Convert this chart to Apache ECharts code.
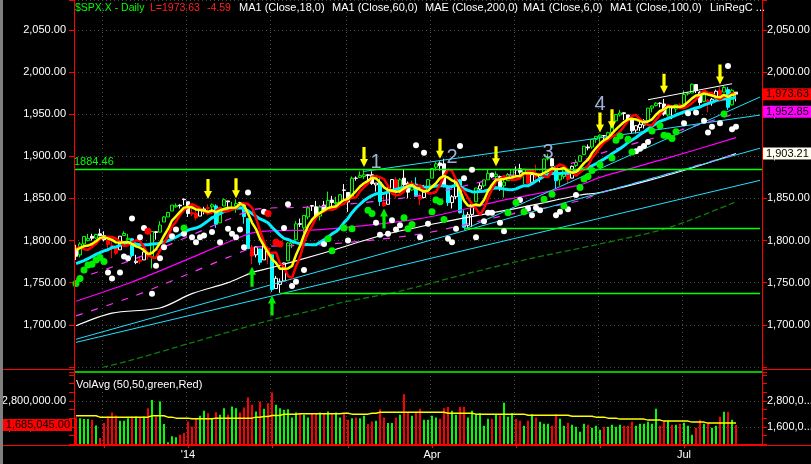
<!DOCTYPE html>
<html><head><meta charset="utf-8">
<script src="https://cdn.jsdelivr.net/npm/echarts/dist/echarts.min.js"></script>
<style>html,body{margin:0;padding:0;background:#000;overflow:hidden}#c{width:811px;height:464px;}</style>
</head><body><div id="c"></div>
<script>
// ---------- DATA ----------
const monthDays = [
 ['2013-11',[20,21,22,25,26,27,29]],
 ['2013-12',[2,3,4,5,6,9,10,11,12,13,16,17,18,19,20,23,24,26,27,30,31]],
 ['2014-01',[2,3,6,7,8,9,10,13,14,15,16,17,21,22,23,24,27,28,29,30,31]],
 ['2014-02',[3,4,5,6,7,10,11,12,13,14,18,19,20,21,24,25,26,27,28]],
 ['2014-03',[3,4,5,6,7,10,11,12,13,14,17,18,19,20,21,24,25,26,27,28,31]],
 ['2014-04',[1,2,3,4,7,8,9,10,11,14,15,16,17,21,22,23,24,25,28,29,30]],
 ['2014-05',[1,2,5,6,7,8,9,12,13,14,15,16,19,20,21,22,23,27,28,29,30]],
 ['2014-06',[2,3,4,5,6,9,10,11,12,13,16,17,18,19,20,23,24,25,26,27,30]],
 ['2014-07',[1,2,3,7,8,9,10,11,14,15,16,17,18,21]]
];
const monthNames = ['Jan','Feb','Mar','Apr','May','Jun','Jul','Aug','Sep','Oct','Nov','Dec'];
const xLabelMonths = ['2014-01','2014-04','2014-07'];
const priorCloses = [1759.8,1762.1,1772.0,1763.3,1756.5,1761.6,1767.9,1763.0,1770.5,1747.2,1770.6,1771.9,1767.7,1782.0,1790.6,1798.2,1791.5,1787.9];
// [open, high, low, close]
const ohlc = [
[1789,1795,1777,1781.4],[1783,1798,1780,1795.9],[1796,1805,1794,1804.8],[1800,1808,1799,1802.5],[1805,1808,1800,1802.8],
[1803,1808,1802,1807.2],[1808,1814,1805,1805.8],[1806,1811,1799,1800.9],[1800,1800,1788,1795.2],[1794,1799,1779,1792.8],
[1792,1793,1783,1785.0],[1789,1805,1789,1805.1],[1806,1811,1806,1808.4],[1801,1808,1800,1802.6],[1802,1803,1780,1782.2],
[1774,1783,1772,1775.5],[1777,1780,1772,1775.3],[1777,1792,1777,1786.5],[1786,1787,1777,1781.0],[1781,1811,1767,1810.7],
[1810.5,1811,1801,1809.6],[1810,1823,1810,1818.3],[1822,1829,1822,1828.0],[1828,1834,1828,1833.3],[1835,1842,1835,1842.0],
[1840,1844,1839,1841.4],[1842,1843,1838,1841.1],[1849,1850,1842,1848.4],[1846,1846,1828,1832.0],[1833,1838,1829,1831.4],
[1832,1837,1824,1826.8],[1829,1840,1829,1837.9],[1836,1840,1831,1837.5],[1839,1843,1830,1838.1],[1840,1844,1832,1842.4],
[1841,1843,1815,1819.2],[1821,1839,1821,1838.9],[1841,1850,1841,1848.4],[1847,1847,1840,1845.9],[1837,1846,1835,1838.7],
[1841,1849,1833,1843.8],[1845,1846,1840,1844.9],[1842,1842,1820,1828.5],[1826,1826,1790,1790.3],[1792,1795,1772,1781.6],
[1783,1793,1780,1792.5],[1790,1790,1771,1774.2],[1777,1798,1777,1794.2],[1791,1793,1772,1782.6],[1783,1785,1739,1741.9],
[1743,1758,1743,1755.2],[1748,1755,1738,1751.6],[1752,1774,1752,1773.4],[1776,1798,1776,1797.0],[1796,1800,1791,1799.8],
[1801,1823,1800,1819.8],[1820,1826,1816,1819.3],[1815,1830,1809,1829.8],[1828,1841,1825,1838.6],[1841.5,1842,1835,1840.8],
[1840,1847,1828,1828.8],[1829,1842,1824,1839.8],[1842,1847,1836,1836.3],[1837,1858,1837,1847.6],[1848,1853,1841,1845.1],
[1844,1852,1840,1845.2],[1844,1855,1842,1854.3],[1860,1867,1847,1859.5],[1857,1857,1834,1845.7],[1850,1876,1850,1873.9],
[1874,1876,1871,1873.8],[1875,1882,1874,1877.0],[1876,1884,1873,1878.0],[1878,1878.5,1869,1877.2],[1878,1882,1866,1867.6],
[1866,1868,1858,1868.2],[1869,1874,1841,1846.3],[1845,1853,1840,1841.1],[1843,1863,1843,1858.8],[1858,1873,1858,1872.3],
[1872,1875,1850,1860.8],[1860,1874,1856,1872.0],[1874,1884,1864,1866.5],[1868,1870,1850,1857.4],[1860,1871,1859,1865.6],
[1867,1875,1852,1852.6],[1852,1856,1842,1849.0],[1851,1866,1850,1857.6],[1859,1873,1859,1872.3],[1874,1886,1874,1885.5],
[1887,1893,1883,1890.9],[1892,1894,1883,1888.8],[1891,1897,1863,1865.1],[1864,1865,1841,1845.0],[1845,1854,1838,1852.0],
[1852,1872,1849,1872.2],[1872,1873,1832,1833.1],[1830,1836,1815,1815.7],[1818,1834,1815,1830.6],[1831,1844,1816,1843.0],
[1846,1862,1846,1862.3],[1861,1869,1857,1864.9],[1865,1872,1863,1871.9],[1872,1884,1872,1879.6],[1880,1880,1874,1875.4],
[1876,1882,1870,1878.6],[1876,1877,1859,1863.4],[1865,1877,1851,1869.4],[1871,1880,1871,1878.3],[1877,1884,1873,1884.0],
[1884,1888,1878,1883.7],[1885,1891,1878,1881.1],[1880,1885,1867,1884.7],[1883,1884,1867,1867.7],[1869,1881,1866,1878.2],
[1877,1890,1872,1875.6],[1875,1879,1869,1878.5],[1880,1897,1880,1896.7],[1897,1903,1895,1897.5],[1897,1898,1888,1888.5],
[1888,1888,1862,1870.9],[1872,1878,1865,1877.9],[1876,1887,1873,1885.1],[1884,1885,1868,1872.8],[1874,1889,1874,1888.0],
[1889,1896,1887,1892.5],[1894,1901,1893,1900.5],[1902,1912,1902,1911.9],[1911,1914,1907,1909.8],[1911,1920,1909,1920.0],
[1920,1924,1916,1923.6],[1923,1926,1916,1925.0],[1924.5,1925,1918,1924.2],[1923,1929,1919,1927.9],[1928,1942,1922,1940.5],
[1942,1950,1942,1949.4],[1949,1955,1947,1951.3],[1951.5,1952,1943,1950.8],[1949,1949,1940,1943.9],[1943,1944,1927,1930.1],
[1931,1937,1927,1936.2],[1934,1941,1930,1937.8],[1937,1944,1933,1942.0],[1942,1957,1939,1957.0],[1957,1960,1952,1959.5],
[1960,1964,1959,1962.9],[1963,1964,1958,1962.6],[1962,1968,1948,1950.0],[1949,1960,1947,1959.5],[1959,1959,1944,1957.2],
[1956,1961,1952,1961.0],[1961,1963,1958,1960.2],[1962,1978,1962,1973.3],[1974,1976,1972,1974.6],[1975,1986,1975,1985.4],
[1985,1985,1975,1977.7],[1976,1977,1960,1963.7],[1965,1974,1964,1972.8],[1966,1968,1952,1964.7],[1965,1969,1960,1967.6],
[1969,1979,1969,1977.1],[1978,1982,1966,1973.3],[1976,1984,1976,1981.6],[1979,1982,1955,1958.1],[1961,1980,1960,1978.2],
[1976,1976,1965,1973.63]
];
// volume in thousands
const volumeK = [2031,2000,1954,1954,1923,1662,1077,1769,2077,2262,2123,1877,1877,2000,2077,2077,2031,2077,2462,2846,2077,2769,1723,877,1154,1108,1231,1308,1846,1615,2000,2108,2338,2231,2000,2277,2154,2462,2154,2538,2462,2262,2492,2954,2615,2308,2769,2431,2692,3185,2615,2462,2385,2415,2031,2262,2231,2154,2031,2231,2231,2262,2231,2308,2185,2262,2031,2200,1923,2000,2031,2000,2108,1723,1846,1877,2415,2031,1769,1769,2031,2154,3108,2262,
2108,2262,2431,1923,1923,2108,2031,1969,2462,2523,2338,2154,2523,2523,2031,2338,2185,2231,1646,1969,1969,2185,2123,2708,2062,2231,1969,1877,1646,1877,2185,2031,1831,1738,1738,1646,2185,1969,1646,1785,1692,1600,1369,1738,1692,1554,1646,1462,1600,1600,1692,1600,1692,1646,1646,1831,1646,1738,1738,1831,1738,2431,1646,1877,1877,1692,1692,1738,1785,1646,1231,1554,1923,1738,1785,1554,1646,2062,2292,2292,1923,1685.045];
// [start bar, value K] of the stepped volume average
const volAvgSteps = [[0,2108],[6,2046],[19,2108],[23,2046],[25,2000],[29,1969],[35,2000],[45,2046],[47,2077],[49,2123],[52,2185],[56,2200],[67,2231],[69,2185],[74,2231],[76,2277],[93,2231],[100,2185],[113,2138],[124,2092],[130,2046],[133,2000],[136,1954],[143,1908],[147,1862],[154,1815],[158,1769]];
// long moving averages: [bar, value]
const ma60Pts = [[0,1728],[13,1749],[21,1764],[29,1780],[38,1798],[45,1810],[61,1813],[86,1826],[106,1847],[126,1866],[131,1875],[148,1898],[165,1922]];
const ma100Pts = [[0,1699],[9,1714],[21,1720],[29,1737],[38,1750],[44,1762],[49,1768],[61,1784],[78,1808],[94,1824],[111,1839],[126,1854],[131,1857],[143,1871],[156,1889],[165,1903.21]];
const ma200Pts = [[0,1642],[13,1657],[29,1679],[49,1706],[60,1718],[65,1725],[81,1740],[98,1761],[114,1779],[131,1796],[148,1815],[165,1846]];
const linRegLines = [[[72,1882],[171,1948.8]],[[0,1682.9],[171,1909.5]],[[0,1679.2],[171,1871.4]],[[97,1813],[171,1970.2]]];
const whiteChannel = [[143,1967],[164,1986]];
const supportLevels = [[51,1737.92],[97,1814.36]];
const topLevel = 1884.46;
const whiteDots = [[8,1762],[9,1755],[11,1762],[12,1781],[13,1779],[14,1826],[16,1804],[17,1815],[19,1737],[20,1770],[21,1779],[22,1792],[24,1805],[25,1813],[27,1808],[29,1804],[30,1798],[31,1804],[32,1806],[34,1810],[36,1798],[38,1814],[39,1808],[40,1804],[41,1813],[42,1792],[43,1857],[47,1834],[52,1815],[53,1843],[54,1746],[55,1751],[57,1765],
[62,1796],[68,1800],[75,1821],[76,1807],[78,1808],[79,1824],[80,1813],[81,1818],[85,1913],[86,1804],[87,1904],[88,1820],[93,1802],[94,1798],[95,1814],[96,1912],[97,1874],[99,1884],[100,1804],[102,1823],[103,1833],[104,1833],[106,1821],[107,1811],[111,1848],[113,1838],[114,1830],[115,1839],[116,1836],[120,1830],[121,1834],[123,1837],[125,1854],
[140,1906],[141,1909],[142,1912],[143,1917],[152,1939],[153,1951],[155,1952],[157,1942],[158,1928],[159,1935],[161,1939],[163,2007],[164,1932],[165,1935]];
const greenDots = [[0,1749],[1,1755],[2,1765],[3,1771],[4,1772],[5,1777],[6,1780],[7,1775],[27,1815],[63,1802],[64,1788],[67,1815],[69,1814],[73,1836],[74,1832],[82,1827],[83,1814],[84,1819],[89,1834],[90,1848],[91,1846],[92,1825],[108,1833],[110,1845],[112,1834],[117,1849],[119,1855],[122,1841],[126,1863],[127,1873],[128,1876],[129,1883],[131,1890],[134,1898],[135,1919],[136,1924],[138,1920],[139,1905],[144,1930],[146,1936],[147,1925],[148,1924],[149,1921],[150,1929],[162,1950]];
const redDots = [[18,1811],[48,1832],[50,1798],[51,1796]];
const yellowArrows = [[33,1861],[40,1862],[72,1899],[91,1909],[105,1900],[131,1940],[134,1944],[147,1986],[161,1997]];
const greenArrows = [[44,1757],[49,1723],[77,1826]];
const waveLabels = [['1',75,1893],['2',94,1898],['3',118,1905],['4',131,1961]];
const rightValueLabels = [[1973.63,'#ff0000'],[1952.85,'#ff00ff'],[1903.21,'#fffff0']];
const lastVolumeK = 1685.045;
const headerTexts = [['$SPX.X - Daily','#00ff00'],['L=1973.63','#ff2020'],['-4.59','#ff2020'],['MA1 (Close,18,0)','#ffffff'],['MA1 (Close,60,0)','#ffffff'],['MAE (Close,200,0)','#ffffff'],['MA1 (Close,6,0)','#ffffff'],['MA1 (Close,100,0)','#ffffff'],['LinRegC ...','#ffffff']];
const headerX = [75,150,207,239,332,425,523,610,710];

// ---------- BUILD ----------
const dates = [];
monthDays.forEach(([m, ds]) => ds.forEach(d => dates.push(m + '-' + String(d).padStart(2, '0'))));
const N = dates.length;
const cats = dates.concat(['+1','+2','+3','+4','+5','+6']);
const closes = ohlc.map(r => r[3]);
const allC = priorCloses.concat(closes);
const P = priorCloses.length;
function sma(n, i) { let s = 0; for (let k = 0; k < n; k++) s += allC[P + i - k]; return s / n; }
const ma6 = closes.map((_, i) => +sma(6, i).toFixed(2));
const ma18 = closes.map((_, i) => +sma(18, i).toFixed(2));
const ma4s = closes.map((_, i) => +sma(4, i - 2).toFixed(2));
const monthStart = new Set();
dates.forEach((d, i) => { if (i > 0 && d.slice(0, 7) !== dates[i - 1].slice(0, 7)) monthStart.add(i); });
const labelIdx = new Set([...monthStart].filter(i => xLabelMonths.includes(dates[i].slice(0, 7))));

const candleData = ohlc.map((r, i) => {
  const [o, h, l, c] = r;
  const up = c >= o;
  const rising = i === 0 ? true : ma6[i] >= ma6[i - 1];
  let col;
  if (up) col = rising ? '#00ff00' : '#ffffff';
  else if (c < ma18[i] && o - c > 12) col = '#00ffff';
  else col = rising ? '#ffffff' : '#ff0000';
  const fill = up ? '#000000' : col;
  return { value: [o, c, l, h], itemStyle: { color: fill, color0: fill, borderColor: col, borderColor0: col, opacity: 1 } };
});
const volData = volumeK.map((v, i) => ({ value: v, itemStyle: { color: ohlc[i][3] >= ohlc[i][0] ? '#00ff00' : '#ff0000', opacity: 1 } }));
const volAvg = [];
{ let s = 0; for (let i = 0; i < N; i++) { while (s + 1 < volAvgSteps.length && volAvgSteps[s + 1][0] <= i) s++; volAvg.push(volAvgSteps[s][1]); } }
const fmt = v => Number(v).toLocaleString('en-US', { minimumFractionDigits: 2, maximumFractionDigits: 2 });
const env = (pts, k) => pts.map(p => [p[0], +(p[1] * k).toFixed(2)]);

const FONT = 'Liberation Sans, Arial, sans-serif';
const tickFn = (i) => monthStart.has(i);
const mainAxisY = (pos) => ({
  type: 'value', gridIndex: 0, position: pos, min: 1650, max: 2085.3, interval: 50,
  axisLine: { show: true, lineStyle: { color: '#ff0000', width: 1 } },
  axisTick: { show: true, length: 5, lineStyle: { color: '#ff0000' } },
  axisLabel: { color: '#ffffff', fontSize: 11, fontFamily: FONT, margin: pos === 'left' ? 8 : 5,
    formatter: v => (v % 50 === 0 && v > 1650) ? fmt(v) : '' },
  splitLine: { show: pos === 'left', lineStyle: { color: '#4a4a4a', type: [1, 3] } }
});
const volAxisY = (pos) => ({
  type: 'value', gridIndex: 1, position: pos, min: 800, max: 4140, interval: 400,
  axisLine: { show: true, lineStyle: { color: '#ff0000', width: 1 } },
  axisTick: { show: true, length: 5, lineStyle: { color: '#ff0000' } },
  axisLabel: { color: '#ffffff', fontSize: 11, fontFamily: FONT, margin: pos === 'left' ? 8 : 5,
    formatter: v => (v === 2800 || v === 1600) ? (pos === 'left' ? fmt(v * 1000) : fmt(v * 1000).slice(0, 7) + '...') : '' },
  splitLine: { show: false }
});
const lineS = (data, color, width, extra) => Object.assign({
  type: 'line', xAxisIndex: 0, yAxisIndex: 0, data, symbol: 'none', silent: true,
  lineStyle: { color, width, opacity: 1 }, z: 3, animation: false
}, extra || {});
const dot = (data, color, size, z, extra) => Object.assign({
  type: 'scatter', xAxisIndex: 0, yAxisIndex: 0, data, symbolSize: size,
  itemStyle: { color, opacity: 1 }, z, silent: true, animation: false
}, extra || {});
const GREEN_LINE = { color: '#00ff00', width: 1.3, type: 'solid', opacity: 1 };
const HIDDEN_LINE = { color: 'rgba(0,0,0,0)', width: 0, type: 'solid' };

const series = [
  { type: 'candlestick', xAxisIndex: 0, yAxisIndex: 0, data: candleData, barWidth: 3, z: 2, animation: false },
  { type: 'line', xAxisIndex: 0, yAxisIndex: 0, data: [], symbol: 'none', silent: true, animation: false, z: 3,
    itemStyle: { color: '#00ff00' }, lineStyle: { color: '#00ff00' },
    markLine: { symbol: 'none', silent: true, animation: false, lineStyle: GREEN_LINE,
      data: [
        { yAxis: topLevel, lineStyle: GREEN_LINE,
          label: { show: true, position: 'insideStartTop', formatter: '1884.46', color: '#00ff00', fontSize: 11, fontFamily: FONT, distance: [0, 2] } },
        ...supportLevels.map(s => [{ coord: [s[0], s[1]], lineStyle: GREEN_LINE, label: { show: false } }, { coord: [cats.length - 1, s[1]] }]),
        ...rightValueLabels.map(([v, c]) => ({ yAxis: v, lineStyle: HIDDEN_LINE,
          label: { show: true, position: 'end', distance: 1, formatter: fmt(v), color: '#000000', backgroundColor: c,
            fontSize: 11, fontFamily: FONT, padding: [1, 2, 0, 3], width: 43, opacity: 1 } }))
      ] } },
  lineS(ma200Pts, '#0b7d0b', 1.3, { lineStyle: { color: '#0b7d0b', width: 1.3, type: [6, 3] }, smooth: 0.3 }),
  lineS(ma100Pts, '#ffffff', 1.2, { smooth: 0.3 }),
  lineS(ma60Pts, '#ff00ff', 1.2, { smooth: 0.3 }),
  lineS(env(ma60Pts, 1.015), '#ff33ff', 1.2, { lineStyle: { color: '#ff33ff', width: 1.2, type: [7, 9] }, smooth: 0.3 }),
  lineS(env(ma60Pts, 0.99), '#ff33ff', 1.2, { lineStyle: { color: '#ff33ff', width: 1.2, type: [7, 9] }, smooth: 0.3 }),
  ...linRegLines.map(l => lineS(l, '#22e0ff', 1)),
  lineS(whiteChannel, '#ffffff', 1),
  lineS(ma18, '#00f0ff', 3, { z: 4 }),
  lineS(ma4s, '#ff0000', 2.5, { z: 4 }),
  lineS(ma6, '#ffff00', 2.5, { z: 5 }),
  dot(whiteDots, '#ffffff', 6, 6),
  dot(greenDots, '#00ee00', 7, 6),
  dot(redDots, '#ff0000', 7, 6),
  dot(yellowArrows, '#ffff00', [8, 20], 7, { symbol: 'path://M3,0L7,0L7,12L10,12L5,20L0,12L3,12Z' }),
  dot(greenArrows, '#00ee00', [8, 20], 7, { symbol: 'path://M5,0L10,8L7,8L7,20L3,20L3,8L0,8Z' }),
  { type: 'scatter', xAxisIndex: 0, yAxisIndex: 0, data: waveLabels.map(w => ({ name: w[0], value: [w[1], w[2]] })), symbolSize: 1,
    itemStyle: { color: 'rgba(0,0,0,0)', opacity: 1 }, z: 8, silent: true, animation: false,
    label: { show: true, position: 'inside', formatter: p => p.name, color: '#9fb3d6', fontSize: 20, fontFamily: FONT, opacity: 1 } },
  { type: 'bar', xAxisIndex: 1, yAxisIndex: 2, data: volData, barWidth: 2, z: 2, animation: false, silent: true,
    markLine: { symbol: 'none', silent: true, animation: false, data: [
      { yAxis: 4140, lineStyle: { color: '#00ff00', width: 1.5, type: 'solid' }, label: { show: false } },
      { yAxis: 2800, lineStyle: { color: '#4a4a4a', width: 1, type: [1, 3] }, label: { show: false } },
      { yAxis: 1600, lineStyle: { color: '#4a4a4a', width: 1, type: [1, 3] }, label: { show: false } },
      { yAxis: lastVolumeK, lineStyle: HIDDEN_LINE,
        label: { show: true, position: 'start', distance: 2, formatter: fmt(lastVolumeK * 1000), color: '#000000', backgroundColor: '#ff0000', fontSize: 11, fontFamily: FONT, padding: [1, 2, 0, 2], width: 66 } }
    ] } },
  { type: 'line', xAxisIndex: 1, yAxisIndex: 2, data: volAvg, symbol: 'none', lineStyle: { color: '#ffff00', width: 1.5, opacity: 1 }, z: 3, animation: false, silent: true }
];

const graphic = [
  { type: 'rect', shape: { x: 0, y: 0, width: 3, height: 464 }, style: { fill: '#7f7f7f' }, z: 100, silent: true },
  { type: 'line', shape: { x1: 74.5, y1: 0, x2: 74.5, y2: 446 }, style: { stroke: '#ff0000', lineWidth: 1 }, z: 100, silent: true },
  { type: 'line', shape: { x1: 762.5, y1: 0, x2: 762.5, y2: 446 }, style: { stroke: '#ff0000', lineWidth: 1 }, z: 100, silent: true },
  { type: 'line', shape: { x1: 3, y1: 369.5, x2: 74, y2: 369.5 }, style: { stroke: '#ff0000', lineWidth: 1 }, z: 100, silent: true },
  { type: 'line', shape: { x1: 762, y1: 369.5, x2: 811, y2: 369.5 }, style: { stroke: '#ff0000', lineWidth: 1 }, z: 100, silent: true },
  { type: 'line', shape: { x1: 3, y1: 445.5, x2: 811, y2: 445.5 }, style: { stroke: '#ff0000', lineWidth: 1 }, z: 100, silent: true },
  ...headerTexts.map((t, i) => ({ type: 'text', x: headerX[i], y: 8, z: 100, silent: true,
    style: { text: t[0], fill: t[1], font: (i < 3 ? '10.5px ' : '11px ') + FONT, textVerticalAlign: 'middle' } })),
  { type: 'text', x: 76, y: 385, z: 100, silent: true, style: { text: 'VolAvg (50,50,green,Red)', fill: '#ffffff', font: '11px ' + FONT, textVerticalAlign: 'middle' } }
];

const chart = echarts.init(document.getElementById('c'), null, { renderer: 'canvas' });
chart.setOption({
  backgroundColor: '#000000',
  animation: false,
  textStyle: { fontFamily: FONT },
  grid: [
    { left: 74, right: 49, top: 0, height: 367, outerBoundsMode: 'none', containLabel: false },
    { left: 74, right: 49, top: 372, height: 72, outerBoundsMode: 'none', containLabel: false }
  ],
  xAxis: [
    { type: 'category', gridIndex: 0, data: cats, boundaryGap: true,
      axisLine: { show: false }, axisTick: { show: false }, axisLabel: { show: false },
      splitLine: { show: true, interval: tickFn, lineStyle: { color: '#4a4a4a', type: [1, 3] } } },
    { type: 'category', gridIndex: 1, data: cats, boundaryGap: true,
      axisLine: { show: true, lineStyle: { color: '#ff0000' } },
      axisTick: { show: true, interval: tickFn, alignWithLabel: true, length: 4, lineStyle: { color: '#ff0000' } },
      axisLabel: { show: true, interval: (i) => labelIdx.has(i), color: '#ffffff', fontSize: 11, fontFamily: FONT, margin: 5,
        formatter: (v) => { const m = +v.slice(5, 7); return m === 1 ? "'" + v.slice(2, 4) : monthNames[m - 1]; } },
      splitLine: { show: true, interval: tickFn, lineStyle: { color: '#4a4a4a', type: [1, 3] } } }
  ],
  yAxis: [mainAxisY('left'), mainAxisY('right'), volAxisY('left'), volAxisY('right')],
  series,
  graphic
});
</script>
</body></html>
